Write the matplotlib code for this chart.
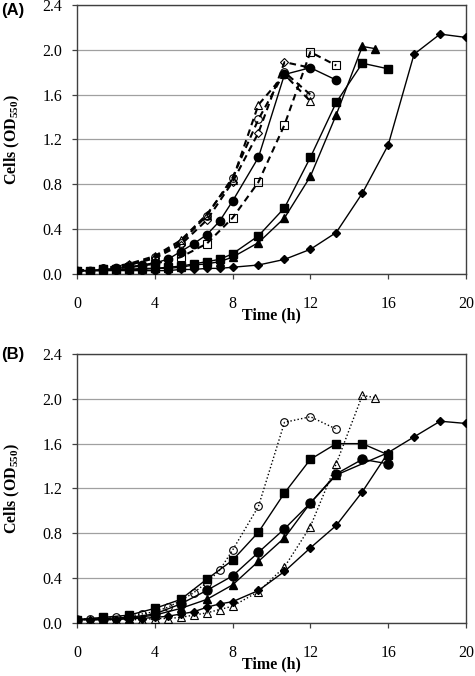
import numpy as np
from matplotlib import pyplot as plt

# sampling times (h): every 40 min up to 8 h, then every 80 min
t_full = [0, 0.67, 1.33, 2, 2.67, 3.33, 4, 4.67, 5.33, 6, 6.67, 7.33, 8,
          9.33, 10.67, 12, 13.33, 14.67, 16, 17.33, 18.67, 20]
t_80 = [0, 1.33, 2.67, 4, 5.33, 6.67, 8, 9.33, 10.67, 12, 13.33, 14.67, 16]

# panel A
a_diamond_t = t_full
a_diamond = [0.03, 0.03, 0.03, 0.03, 0.03, 0.03, 0.03, 0.03, 0.04, 0.04, 0.05, 0.05,
             0.06, 0.08, 0.13, 0.22, 0.37, 0.72, 1.15, 1.96, 2.14, 2.11]
a_square_t = t_full[:19]
a_square = [0.03, 0.03, 0.04, 0.04, 0.04, 0.05, 0.05, 0.06, 0.07, 0.09, 0.11, 0.13,
            0.18, 0.34, 0.59, 1.04, 1.53, 1.88, 1.83]
a_triangle_t = t_full[:18] + [15.33]
a_triangle = [0.03, 0.03, 0.03, 0.04, 0.04, 0.04, 0.05, 0.05, 0.06, 0.08, 0.09, 0.11,
              0.15, 0.28, 0.50, 0.87, 1.42, 2.03, 2.01]
a_circle_t = t_full[:17]
a_circle = [0.03, 0.03, 0.04, 0.05, 0.06, 0.08, 0.10, 0.13, 0.20, 0.27, 0.35, 0.47,
            0.65, 1.04, 1.78, 1.84, 1.73]
a_open_sq_t = t_80[:11]
a_open_sq = [0.03, 0.04, 0.06, 0.09, 0.15, 0.27, 0.50, 0.82, 1.33, 1.98, 1.86]
a_open_t = t_80[:10]
a_open_circle = [0.03, 0.05, 0.08, 0.15, 0.28, 0.52, 0.86, 1.38, 1.80, 1.60]
a_open_triangle = [0.03, 0.05, 0.09, 0.16, 0.30, 0.53, 0.84, 1.51, 1.78, 1.54]
a_open_diamond = [0.03, 0.04, 0.08, 0.14, 0.26, 0.48, 0.82, 1.26, 1.89, 1.84]

# panel B
b_diamond_t = t_full
b_diamond = [0.03, 0.03, 0.03, 0.03, 0.04, 0.04, 0.05, 0.06, 0.08, 0.10, 0.14, 0.17,
             0.19, 0.29, 0.46, 0.67, 0.87, 1.17, 1.52, 1.66, 1.80, 1.78]
b_square_t = t_80
b_square = [0.03, 0.05, 0.07, 0.13, 0.21, 0.39, 0.56, 0.81, 1.16, 1.46, 1.60, 1.60, 1.50]
b_circle_t = t_80
b_circle = [0.03, 0.04, 0.05, 0.08, 0.17, 0.29, 0.42, 0.63, 0.84, 1.07, 1.33, 1.46, 1.42]
b_triangle_t = t_80[:11] + [16]
b_triangle = [0.03, 0.03, 0.04, 0.07, 0.13, 0.21, 0.34, 0.55, 0.76, 1.07, 1.32, 1.52]
b_open_circle_t = t_full[:17]
b_open_circle = [0.03, 0.04, 0.04, 0.05, 0.06, 0.08, 0.10, 0.14, 0.20, 0.27, 0.36, 0.47,
                 0.65, 1.04, 1.79, 1.84, 1.73]
b_open_triangle_t = t_full[:18] + [15.33]
b_open_triangle = [0.03, 0.03, 0.03, 0.03, 0.03, 0.03, 0.04, 0.04, 0.05, 0.07, 0.09, 0.12,
                   0.15, 0.28, 0.50, 0.86, 1.42, 2.03, 2.01]

serif = "Liberation Serif"
plt.rcParams["mathtext.fontset"] = "custom"
plt.rcParams["mathtext.rm"] = serif
plt.rcParams["mathtext.bf"] = serif + ":bold"

fig = plt.figure(figsize=(4.75, 6.76), dpi=100)
ax_a = fig.add_axes([0.162, 0.5947, 0.819, 0.398])
ax_b = fig.add_axes([0.162, 0.0784, 0.819, 0.398])

dash = (0, (3.2, 2.2))
dot = (0, (1, 1.6))


def solid(ax, t, y, marker, ms):
    ax.plot(t, y, color="black", lw=1, marker=marker, ms=ms,
            mfc="black", mec="black", zorder=3)


def hollow(ax, t, y, marker, ms, ls, lw):
    ax.plot(t, y, color="black", lw=lw, ls=ls, marker=marker, ms=ms,
            mfc="none", mec="black", mew=0.8, zorder=4)


# panel A curves
solid(ax_a, a_diamond_t, a_diamond, "D", 3.8)
solid(ax_a, a_square_t, a_square, "s", 5.5)
solid(ax_a, a_triangle_t, a_triangle, "^", 5.5)
solid(ax_a, a_circle_t, a_circle, "o", 6)
hollow(ax_a, a_open_sq_t, a_open_sq, "s", 5.5, dash, 1.5)
hollow(ax_a, a_open_t, a_open_circle, "o", 5.5, dash, 1.5)
hollow(ax_a, a_open_t, a_open_triangle, "^", 5.5, dash, 1.5)
hollow(ax_a, a_open_t, a_open_diamond, "D", 4.5, dash, 1.5)

# panel B curves
solid(ax_b, b_diamond_t, b_diamond, "D", 3.8)
solid(ax_b, b_square_t, b_square, "s", 6)
solid(ax_b, b_circle_t, b_circle, "o", 6.5)
solid(ax_b, b_triangle_t, b_triangle, "^", 6)
hollow(ax_b, b_open_circle_t, b_open_circle, "o", 5.5, dot, 1)
hollow(ax_b, b_open_triangle_t, b_open_triangle, "^", 5.5, dot, 1)

for ax, tag, tag_y in [(ax_a, "(A)", 11), (ax_b, "(B)", 354)]:
    ax.set_xlim(0, 20)
    ax.set_ylim(0, 2.4)
    ax.set_xticks(np.arange(0, 21, 4))
    ax.set_yticks(np.arange(0, 2.41, 0.4))
    ax.set_yticklabels(["%.1f" % v for v in np.arange(0, 2.41, 0.4)])
    ax.yaxis.grid(True, color="#a0a0a0", lw=0.9)
    ax.set_axisbelow(True)
    for s in ax.spines.values():
        s.set_color("#404040")
        s.set_linewidth(1.0)
    ax.tick_params(direction="out", length=3.5, width=0.9, color="#404040",
                   labelsize=11.5)
    ax.tick_params(axis="y", pad=7)
    ax.tick_params(axis="x", pad=12)
    for lab in ax.get_xticklabels() + ax.get_yticklabels():
        lab.set_family(serif)
    ax.set_xlabel("Time (h)", family=serif, fontweight="bold", fontsize=11.5, labelpad=-3)
    ax.set_ylabel("Cells (OD$_{\\mathbf{550}}$)", family=serif, fontweight="bold", fontsize=11.5)
    ax.yaxis.set_label_coords(-0.14, 0.5)
    fig.text(1 / 475, 1 - tag_y / 676, tag, family="Liberation Sans",
             fontweight="bold", fontsize=12, ha="left", va="center")

fig.savefig("out.png", dpi=100)
